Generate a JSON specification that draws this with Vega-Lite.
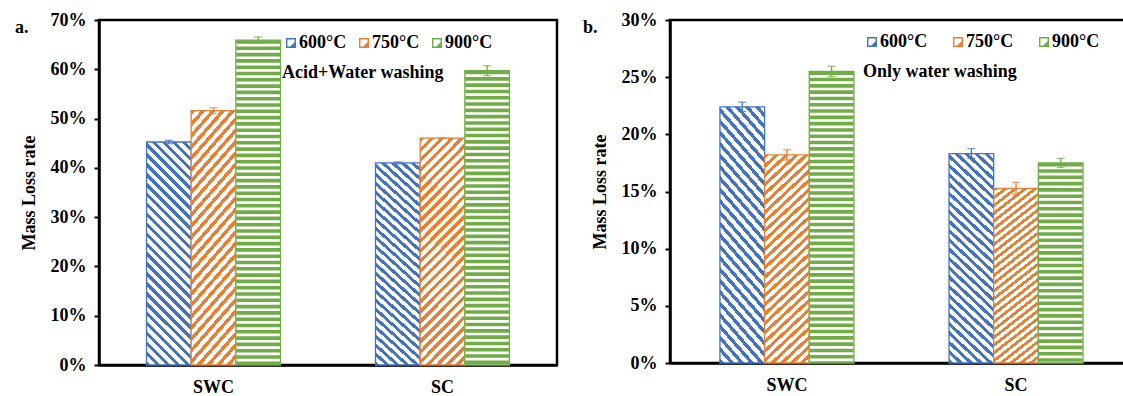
{
"$schema":"https://vega.github.io/schema/vega-lite/v6.json",
"autosize":{"type":"pad"},
"padding":{"left":13,"top":9,"right":0,"bottom":0},
"background":"white",
"bounds":"flush",
"spacing":113,
"resolve":{"scale":{"stroke":"independent","color":"independent"},"legend":{"stroke":"independent","color":"independent"}},
"config":{
"view":{"stroke":"black","strokeWidth":2.5},
"font":"Liberation Serif",
"axis":{"labelFont":"Liberation Serif","labelFontSize":18,"labelFontWeight":"bold","labelColor":"black","titleFont":"Liberation Serif","titleFontSize":18,"titleFontWeight":"bold","titleColor":"black","domainColor":"black","domainWidth":2.5,"tickColor":"black","tickWidth":2,"grid":false},
"axisX":{"ticks":false,"labelPadding":13,"labelAngle":0},
"axisY":{"tickSize":5,"labelPadding":8,"titlePadding":12},
"legend":{"orient":"none","direction":"horizontal","titleOrient":"bottom","titleAnchor":"start","symbolType":"M-1,-1H1V1H-1Z M-0.72,-0.72V0.72H0.72V-0.72Z M0.72,-0.15L0.72,0.72L-0.15,0.72Z","symbolSize":100,"symbolStrokeWidth":0,"labelOffset":-1,"labelFont":"Liberation Serif","labelFontSize":18,"labelFontWeight":"bold","labelColor":"black","titleFont":"Liberation Serif","titleFontSize":18,"titleFontWeight":"bold","titleColor":"black","titlePadding":12,"titleLimit":400}
},
"hconcat":[
{
"width":458,"height":345,
"title":{"text":"a.","anchor":"start","frame":"group","dx":-84,"dy":7,"baseline":"middle","offset":-28,"fontSize":18,"fontWeight":"bold","font":"Liberation Serif","color":"black"},
"data":{"values":[
{"g":"SWC","t":"600°C","v":0.4525,"lo":0.449,"hi":0.456},
{"g":"SWC","t":"750°C","v":0.516,"lo":0.510,"hi":0.522},
{"g":"SWC","t":"900°C","v":0.659,"lo":0.6525,"hi":0.6655},
{"g":"SC","t":"600°C","v":0.410,"lo":0.408,"hi":0.412},
{"g":"SC","t":"750°C","v":0.4605,"lo":0.4595,"hi":0.4615},
{"g":"SC","t":"900°C","v":0.597,"lo":0.587,"hi":0.607}
]},
"encoding":{
"x":{"field":"g","type":"nominal","sort":["SWC","SC"],"title":null,"scale":{"paddingInner":0.415,"paddingOuter":0.2075}},
"xOffset":{"field":"t","type":"nominal","scale":{"domain":["600°C","750°C","900°C"],"paddingInner":0,"paddingOuter":0}}
},
"layer":[
{"mark":{"type":"bar","strokeWidth":1.3},
"encoding":{
"y":{"field":"v","type":"quantitative","title":"Mass Loss rate","scale":{"domain":[0,0.7],"nice":false},"axis":{"values":[0,0.1,0.2,0.3,0.4,0.5,0.6,0.7],"format":".0%"}},
"stroke":{"field":"t","type":"nominal","scale":{"domain":["600°C","750°C","900°C"],"range":["#4472C4","#ED7D31","#70AD47"]},
"legend":{"title":"Acid+Water washing","legendX":183,"legendY":14,"columnPadding":8}},
"fill":{"condition":[
{"test":"datum.t==='600°C'","value":{"gradient":"linear","x1":0,"y1":1,"x2":0.2308,"y2":-0.1538,"stops":[
{"offset":0,"color":"#4472C4"},{"offset":0.0167,"color":"#4472C4"},{"offset":0.0167,"color":"#fff"},{"offset":0.037,"color":"#fff"},
{"offset":0.037,"color":"#4472C4"},{"offset":0.0537,"color":"#4472C4"},{"offset":0.0537,"color":"#fff"},{"offset":0.0741,"color":"#fff"},
{"offset":0.0741,"color":"#4472C4"},{"offset":0.0907,"color":"#4472C4"},{"offset":0.0907,"color":"#fff"},{"offset":0.1111,"color":"#fff"},
{"offset":0.1111,"color":"#4472C4"},{"offset":0.1278,"color":"#4472C4"},{"offset":0.1278,"color":"#fff"},{"offset":0.1481,"color":"#fff"},
{"offset":0.1481,"color":"#4472C4"},{"offset":0.1648,"color":"#4472C4"},{"offset":0.1648,"color":"#fff"},{"offset":0.1852,"color":"#fff"},
{"offset":0.1852,"color":"#4472C4"},{"offset":0.2019,"color":"#4472C4"},{"offset":0.2019,"color":"#fff"},{"offset":0.2222,"color":"#fff"},
{"offset":0.2222,"color":"#4472C4"},{"offset":0.2389,"color":"#4472C4"},{"offset":0.2389,"color":"#fff"},{"offset":0.2593,"color":"#fff"},
{"offset":0.2593,"color":"#4472C4"},{"offset":0.2759,"color":"#4472C4"},{"offset":0.2759,"color":"#fff"},{"offset":0.2963,"color":"#fff"},
{"offset":0.2963,"color":"#4472C4"},{"offset":0.313,"color":"#4472C4"},{"offset":0.313,"color":"#fff"},{"offset":0.3333,"color":"#fff"},
{"offset":0.3333,"color":"#4472C4"},{"offset":0.35,"color":"#4472C4"},{"offset":0.35,"color":"#fff"},{"offset":0.3704,"color":"#fff"},
{"offset":0.3704,"color":"#4472C4"},{"offset":0.387,"color":"#4472C4"},{"offset":0.387,"color":"#fff"},{"offset":0.4074,"color":"#fff"},
{"offset":0.4074,"color":"#4472C4"},{"offset":0.4241,"color":"#4472C4"},{"offset":0.4241,"color":"#fff"},{"offset":0.4444,"color":"#fff"},
{"offset":0.4444,"color":"#4472C4"},{"offset":0.4611,"color":"#4472C4"},{"offset":0.4611,"color":"#fff"},{"offset":0.4815,"color":"#fff"},
{"offset":0.4815,"color":"#4472C4"},{"offset":0.4981,"color":"#4472C4"},{"offset":0.4981,"color":"#fff"},{"offset":0.5185,"color":"#fff"},
{"offset":0.5185,"color":"#4472C4"},{"offset":0.5352,"color":"#4472C4"},{"offset":0.5352,"color":"#fff"},{"offset":0.5556,"color":"#fff"},
{"offset":0.5556,"color":"#4472C4"},{"offset":0.5722,"color":"#4472C4"},{"offset":0.5722,"color":"#fff"},{"offset":0.5926,"color":"#fff"},
{"offset":0.5926,"color":"#4472C4"},{"offset":0.6093,"color":"#4472C4"},{"offset":0.6093,"color":"#fff"},{"offset":0.6296,"color":"#fff"},
{"offset":0.6296,"color":"#4472C4"},{"offset":0.6463,"color":"#4472C4"},{"offset":0.6463,"color":"#fff"},{"offset":0.6667,"color":"#fff"},
{"offset":0.6667,"color":"#4472C4"},{"offset":0.6833,"color":"#4472C4"},{"offset":0.6833,"color":"#fff"},{"offset":0.7037,"color":"#fff"},
{"offset":0.7037,"color":"#4472C4"},{"offset":0.7204,"color":"#4472C4"},{"offset":0.7204,"color":"#fff"},{"offset":0.7407,"color":"#fff"},
{"offset":0.7407,"color":"#4472C4"},{"offset":0.7574,"color":"#4472C4"},{"offset":0.7574,"color":"#fff"},{"offset":0.7778,"color":"#fff"},
{"offset":0.7778,"color":"#4472C4"},{"offset":0.7944,"color":"#4472C4"},{"offset":0.7944,"color":"#fff"},{"offset":0.8148,"color":"#fff"},
{"offset":0.8148,"color":"#4472C4"},{"offset":0.8315,"color":"#4472C4"},{"offset":0.8315,"color":"#fff"},{"offset":0.8519,"color":"#fff"},
{"offset":0.8519,"color":"#4472C4"},{"offset":0.8685,"color":"#4472C4"},{"offset":0.8685,"color":"#fff"},{"offset":0.8889,"color":"#fff"},
{"offset":0.8889,"color":"#4472C4"},{"offset":0.9056,"color":"#4472C4"},{"offset":0.9056,"color":"#fff"},{"offset":0.9259,"color":"#fff"},
{"offset":0.9259,"color":"#4472C4"},{"offset":0.9426,"color":"#4472C4"},{"offset":0.9426,"color":"#fff"},{"offset":0.963,"color":"#fff"},
{"offset":0.963,"color":"#4472C4"},{"offset":0.9796,"color":"#4472C4"},{"offset":0.9796,"color":"#fff"},{"offset":1,"color":"#fff"}
]}},
{"test":"datum.t==='750°C'","value":{"gradient":"linear","x1":0,"y1":0,"x2":0.2308,"y2":1.1538,"stops":[
{"offset":0,"color":"#ED7D31"},{"offset":0.0167,"color":"#ED7D31"},{"offset":0.0167,"color":"#fff"},{"offset":0.037,"color":"#fff"},
{"offset":0.037,"color":"#ED7D31"},{"offset":0.0537,"color":"#ED7D31"},{"offset":0.0537,"color":"#fff"},{"offset":0.0741,"color":"#fff"},
{"offset":0.0741,"color":"#ED7D31"},{"offset":0.0907,"color":"#ED7D31"},{"offset":0.0907,"color":"#fff"},{"offset":0.1111,"color":"#fff"},
{"offset":0.1111,"color":"#ED7D31"},{"offset":0.1278,"color":"#ED7D31"},{"offset":0.1278,"color":"#fff"},{"offset":0.1481,"color":"#fff"},
{"offset":0.1481,"color":"#ED7D31"},{"offset":0.1648,"color":"#ED7D31"},{"offset":0.1648,"color":"#fff"},{"offset":0.1852,"color":"#fff"},
{"offset":0.1852,"color":"#ED7D31"},{"offset":0.2019,"color":"#ED7D31"},{"offset":0.2019,"color":"#fff"},{"offset":0.2222,"color":"#fff"},
{"offset":0.2222,"color":"#ED7D31"},{"offset":0.2389,"color":"#ED7D31"},{"offset":0.2389,"color":"#fff"},{"offset":0.2593,"color":"#fff"},
{"offset":0.2593,"color":"#ED7D31"},{"offset":0.2759,"color":"#ED7D31"},{"offset":0.2759,"color":"#fff"},{"offset":0.2963,"color":"#fff"},
{"offset":0.2963,"color":"#ED7D31"},{"offset":0.313,"color":"#ED7D31"},{"offset":0.313,"color":"#fff"},{"offset":0.3333,"color":"#fff"},
{"offset":0.3333,"color":"#ED7D31"},{"offset":0.35,"color":"#ED7D31"},{"offset":0.35,"color":"#fff"},{"offset":0.3704,"color":"#fff"},
{"offset":0.3704,"color":"#ED7D31"},{"offset":0.387,"color":"#ED7D31"},{"offset":0.387,"color":"#fff"},{"offset":0.4074,"color":"#fff"},
{"offset":0.4074,"color":"#ED7D31"},{"offset":0.4241,"color":"#ED7D31"},{"offset":0.4241,"color":"#fff"},{"offset":0.4444,"color":"#fff"},
{"offset":0.4444,"color":"#ED7D31"},{"offset":0.4611,"color":"#ED7D31"},{"offset":0.4611,"color":"#fff"},{"offset":0.4815,"color":"#fff"},
{"offset":0.4815,"color":"#ED7D31"},{"offset":0.4981,"color":"#ED7D31"},{"offset":0.4981,"color":"#fff"},{"offset":0.5185,"color":"#fff"},
{"offset":0.5185,"color":"#ED7D31"},{"offset":0.5352,"color":"#ED7D31"},{"offset":0.5352,"color":"#fff"},{"offset":0.5556,"color":"#fff"},
{"offset":0.5556,"color":"#ED7D31"},{"offset":0.5722,"color":"#ED7D31"},{"offset":0.5722,"color":"#fff"},{"offset":0.5926,"color":"#fff"},
{"offset":0.5926,"color":"#ED7D31"},{"offset":0.6093,"color":"#ED7D31"},{"offset":0.6093,"color":"#fff"},{"offset":0.6296,"color":"#fff"},
{"offset":0.6296,"color":"#ED7D31"},{"offset":0.6463,"color":"#ED7D31"},{"offset":0.6463,"color":"#fff"},{"offset":0.6667,"color":"#fff"},
{"offset":0.6667,"color":"#ED7D31"},{"offset":0.6833,"color":"#ED7D31"},{"offset":0.6833,"color":"#fff"},{"offset":0.7037,"color":"#fff"},
{"offset":0.7037,"color":"#ED7D31"},{"offset":0.7204,"color":"#ED7D31"},{"offset":0.7204,"color":"#fff"},{"offset":0.7407,"color":"#fff"},
{"offset":0.7407,"color":"#ED7D31"},{"offset":0.7574,"color":"#ED7D31"},{"offset":0.7574,"color":"#fff"},{"offset":0.7778,"color":"#fff"},
{"offset":0.7778,"color":"#ED7D31"},{"offset":0.7944,"color":"#ED7D31"},{"offset":0.7944,"color":"#fff"},{"offset":0.8148,"color":"#fff"},
{"offset":0.8148,"color":"#ED7D31"},{"offset":0.8315,"color":"#ED7D31"},{"offset":0.8315,"color":"#fff"},{"offset":0.8519,"color":"#fff"},
{"offset":0.8519,"color":"#ED7D31"},{"offset":0.8685,"color":"#ED7D31"},{"offset":0.8685,"color":"#fff"},{"offset":0.8889,"color":"#fff"},
{"offset":0.8889,"color":"#ED7D31"},{"offset":0.9056,"color":"#ED7D31"},{"offset":0.9056,"color":"#fff"},{"offset":0.9259,"color":"#fff"},
{"offset":0.9259,"color":"#ED7D31"},{"offset":0.9426,"color":"#ED7D31"},{"offset":0.9426,"color":"#fff"},{"offset":0.963,"color":"#fff"},
{"offset":0.963,"color":"#ED7D31"},{"offset":0.9796,"color":"#ED7D31"},{"offset":0.9796,"color":"#fff"},{"offset":1,"color":"#fff"}
]}}
],"value":"#ffffff"}
}},
{"transform":[{"filter":"datum.t==='900°C'"}],
"mark":{"type":"rule","color":"#70AD47","strokeWidth":44,"strokeDash":[3.6,2.7],"strokeCap":"butt"},
"encoding":{"y":{"field":"v","type":"quantitative","title":"Mass Loss rate"},"y2":{"datum":0}}},
{"mark":{"type":"rule","strokeWidth":1.3},
"encoding":{"y":{"field":"lo","type":"quantitative","title":"Mass Loss rate"},"y2":{"field":"hi"},
"color":{"field":"t","type":"nominal","scale":{"domain":["600°C","750°C","900°C"],"range":["#4472C4","#ED7D31","#70AD47"]},"legend":null}}},
{"mark":{"type":"tick","orient":"horizontal","thickness":1.3,"size":8},
"encoding":{"y":{"field":"hi","type":"quantitative","title":"Mass Loss rate"},
"color":{"field":"t","type":"nominal","scale":{"domain":["600°C","750°C","900°C"],"range":["#4472C4","#ED7D31","#70AD47"]},"legend":null}}},
{"mark":{"type":"tick","orient":"horizontal","thickness":1.3,"size":8},
"encoding":{"y":{"field":"lo","type":"quantitative","title":"Mass Loss rate"},
"color":{"field":"t","type":"nominal","scale":{"domain":["600°C","750°C","900°C"],"range":["#4472C4","#ED7D31","#70AD47"]},"legend":null}}}
]
},
{
"width":463,"height":343,
"title":{"text":"b.","anchor":"start","frame":"group","dx":-87,"dy":7,"baseline":"middle","offset":-28,"fontSize":18,"fontWeight":"bold","font":"Liberation Serif","color":"black"},
"data":{"values":[
{"g":"SWC","t":"600°C","v":0.2241,"lo":0.2201,"hi":0.2281},
{"g":"SWC","t":"750°C","v":0.182,"lo":0.1775,"hi":0.1865},
{"g":"SWC","t":"900°C","v":0.255,"lo":0.2505,"hi":0.2595},
{"g":"SC","t":"600°C","v":0.1832,"lo":0.179,"hi":0.1875},
{"g":"SC","t":"750°C","v":0.1527,"lo":0.1475,"hi":0.158},
{"g":"SC","t":"900°C","v":0.175,"lo":0.171,"hi":0.179}
]},
"encoding":{
"x":{"field":"g","type":"nominal","sort":["SWC","SC"],"title":null,"scale":{"paddingInner":0.415,"paddingOuter":0.218}},
"xOffset":{"field":"t","type":"nominal","scale":{"domain":["600°C","750°C","900°C"],"paddingInner":0,"paddingOuter":0}}
},
"layer":[
{"mark":{"type":"bar","strokeWidth":1.3},
"encoding":{
"y":{"field":"v","type":"quantitative","title":"Mass Loss rate","scale":{"domain":[0,0.3],"nice":false},"axis":{"values":[0,0.05,0.1,0.15,0.2,0.25,0.3],"format":".0%"}},
"stroke":{"field":"t","type":"nominal","scale":{"domain":["600°C","750°C","900°C"],"range":["#4472C4","#ED7D31","#70AD47"]},
"legend":{"title":"Only water washing","legendX":193,"legendY":13,"columnPadding":21}},
"fill":{"condition":[
{"test":"datum.t==='600°C'","value":{"gradient":"linear","x1":0,"y1":1,"x2":0.2308,"y2":-0.1538,"stops":[
{"offset":0,"color":"#4472C4"},{"offset":0.0167,"color":"#4472C4"},{"offset":0.0167,"color":"#fff"},{"offset":0.037,"color":"#fff"},
{"offset":0.037,"color":"#4472C4"},{"offset":0.0537,"color":"#4472C4"},{"offset":0.0537,"color":"#fff"},{"offset":0.0741,"color":"#fff"},
{"offset":0.0741,"color":"#4472C4"},{"offset":0.0907,"color":"#4472C4"},{"offset":0.0907,"color":"#fff"},{"offset":0.1111,"color":"#fff"},
{"offset":0.1111,"color":"#4472C4"},{"offset":0.1278,"color":"#4472C4"},{"offset":0.1278,"color":"#fff"},{"offset":0.1481,"color":"#fff"},
{"offset":0.1481,"color":"#4472C4"},{"offset":0.1648,"color":"#4472C4"},{"offset":0.1648,"color":"#fff"},{"offset":0.1852,"color":"#fff"},
{"offset":0.1852,"color":"#4472C4"},{"offset":0.2019,"color":"#4472C4"},{"offset":0.2019,"color":"#fff"},{"offset":0.2222,"color":"#fff"},
{"offset":0.2222,"color":"#4472C4"},{"offset":0.2389,"color":"#4472C4"},{"offset":0.2389,"color":"#fff"},{"offset":0.2593,"color":"#fff"},
{"offset":0.2593,"color":"#4472C4"},{"offset":0.2759,"color":"#4472C4"},{"offset":0.2759,"color":"#fff"},{"offset":0.2963,"color":"#fff"},
{"offset":0.2963,"color":"#4472C4"},{"offset":0.313,"color":"#4472C4"},{"offset":0.313,"color":"#fff"},{"offset":0.3333,"color":"#fff"},
{"offset":0.3333,"color":"#4472C4"},{"offset":0.35,"color":"#4472C4"},{"offset":0.35,"color":"#fff"},{"offset":0.3704,"color":"#fff"},
{"offset":0.3704,"color":"#4472C4"},{"offset":0.387,"color":"#4472C4"},{"offset":0.387,"color":"#fff"},{"offset":0.4074,"color":"#fff"},
{"offset":0.4074,"color":"#4472C4"},{"offset":0.4241,"color":"#4472C4"},{"offset":0.4241,"color":"#fff"},{"offset":0.4444,"color":"#fff"},
{"offset":0.4444,"color":"#4472C4"},{"offset":0.4611,"color":"#4472C4"},{"offset":0.4611,"color":"#fff"},{"offset":0.4815,"color":"#fff"},
{"offset":0.4815,"color":"#4472C4"},{"offset":0.4981,"color":"#4472C4"},{"offset":0.4981,"color":"#fff"},{"offset":0.5185,"color":"#fff"},
{"offset":0.5185,"color":"#4472C4"},{"offset":0.5352,"color":"#4472C4"},{"offset":0.5352,"color":"#fff"},{"offset":0.5556,"color":"#fff"},
{"offset":0.5556,"color":"#4472C4"},{"offset":0.5722,"color":"#4472C4"},{"offset":0.5722,"color":"#fff"},{"offset":0.5926,"color":"#fff"},
{"offset":0.5926,"color":"#4472C4"},{"offset":0.6093,"color":"#4472C4"},{"offset":0.6093,"color":"#fff"},{"offset":0.6296,"color":"#fff"},
{"offset":0.6296,"color":"#4472C4"},{"offset":0.6463,"color":"#4472C4"},{"offset":0.6463,"color":"#fff"},{"offset":0.6667,"color":"#fff"},
{"offset":0.6667,"color":"#4472C4"},{"offset":0.6833,"color":"#4472C4"},{"offset":0.6833,"color":"#fff"},{"offset":0.7037,"color":"#fff"},
{"offset":0.7037,"color":"#4472C4"},{"offset":0.7204,"color":"#4472C4"},{"offset":0.7204,"color":"#fff"},{"offset":0.7407,"color":"#fff"},
{"offset":0.7407,"color":"#4472C4"},{"offset":0.7574,"color":"#4472C4"},{"offset":0.7574,"color":"#fff"},{"offset":0.7778,"color":"#fff"},
{"offset":0.7778,"color":"#4472C4"},{"offset":0.7944,"color":"#4472C4"},{"offset":0.7944,"color":"#fff"},{"offset":0.8148,"color":"#fff"},
{"offset":0.8148,"color":"#4472C4"},{"offset":0.8315,"color":"#4472C4"},{"offset":0.8315,"color":"#fff"},{"offset":0.8519,"color":"#fff"},
{"offset":0.8519,"color":"#4472C4"},{"offset":0.8685,"color":"#4472C4"},{"offset":0.8685,"color":"#fff"},{"offset":0.8889,"color":"#fff"},
{"offset":0.8889,"color":"#4472C4"},{"offset":0.9056,"color":"#4472C4"},{"offset":0.9056,"color":"#fff"},{"offset":0.9259,"color":"#fff"},
{"offset":0.9259,"color":"#4472C4"},{"offset":0.9426,"color":"#4472C4"},{"offset":0.9426,"color":"#fff"},{"offset":0.963,"color":"#fff"},
{"offset":0.963,"color":"#4472C4"},{"offset":0.9796,"color":"#4472C4"},{"offset":0.9796,"color":"#fff"},{"offset":1,"color":"#fff"}
]}},
{"test":"datum.t==='750°C'","value":{"gradient":"linear","x1":0,"y1":0,"x2":0.2308,"y2":1.1538,"stops":[
{"offset":0,"color":"#ED7D31"},{"offset":0.0167,"color":"#ED7D31"},{"offset":0.0167,"color":"#fff"},{"offset":0.037,"color":"#fff"},
{"offset":0.037,"color":"#ED7D31"},{"offset":0.0537,"color":"#ED7D31"},{"offset":0.0537,"color":"#fff"},{"offset":0.0741,"color":"#fff"},
{"offset":0.0741,"color":"#ED7D31"},{"offset":0.0907,"color":"#ED7D31"},{"offset":0.0907,"color":"#fff"},{"offset":0.1111,"color":"#fff"},
{"offset":0.1111,"color":"#ED7D31"},{"offset":0.1278,"color":"#ED7D31"},{"offset":0.1278,"color":"#fff"},{"offset":0.1481,"color":"#fff"},
{"offset":0.1481,"color":"#ED7D31"},{"offset":0.1648,"color":"#ED7D31"},{"offset":0.1648,"color":"#fff"},{"offset":0.1852,"color":"#fff"},
{"offset":0.1852,"color":"#ED7D31"},{"offset":0.2019,"color":"#ED7D31"},{"offset":0.2019,"color":"#fff"},{"offset":0.2222,"color":"#fff"},
{"offset":0.2222,"color":"#ED7D31"},{"offset":0.2389,"color":"#ED7D31"},{"offset":0.2389,"color":"#fff"},{"offset":0.2593,"color":"#fff"},
{"offset":0.2593,"color":"#ED7D31"},{"offset":0.2759,"color":"#ED7D31"},{"offset":0.2759,"color":"#fff"},{"offset":0.2963,"color":"#fff"},
{"offset":0.2963,"color":"#ED7D31"},{"offset":0.313,"color":"#ED7D31"},{"offset":0.313,"color":"#fff"},{"offset":0.3333,"color":"#fff"},
{"offset":0.3333,"color":"#ED7D31"},{"offset":0.35,"color":"#ED7D31"},{"offset":0.35,"color":"#fff"},{"offset":0.3704,"color":"#fff"},
{"offset":0.3704,"color":"#ED7D31"},{"offset":0.387,"color":"#ED7D31"},{"offset":0.387,"color":"#fff"},{"offset":0.4074,"color":"#fff"},
{"offset":0.4074,"color":"#ED7D31"},{"offset":0.4241,"color":"#ED7D31"},{"offset":0.4241,"color":"#fff"},{"offset":0.4444,"color":"#fff"},
{"offset":0.4444,"color":"#ED7D31"},{"offset":0.4611,"color":"#ED7D31"},{"offset":0.4611,"color":"#fff"},{"offset":0.4815,"color":"#fff"},
{"offset":0.4815,"color":"#ED7D31"},{"offset":0.4981,"color":"#ED7D31"},{"offset":0.4981,"color":"#fff"},{"offset":0.5185,"color":"#fff"},
{"offset":0.5185,"color":"#ED7D31"},{"offset":0.5352,"color":"#ED7D31"},{"offset":0.5352,"color":"#fff"},{"offset":0.5556,"color":"#fff"},
{"offset":0.5556,"color":"#ED7D31"},{"offset":0.5722,"color":"#ED7D31"},{"offset":0.5722,"color":"#fff"},{"offset":0.5926,"color":"#fff"},
{"offset":0.5926,"color":"#ED7D31"},{"offset":0.6093,"color":"#ED7D31"},{"offset":0.6093,"color":"#fff"},{"offset":0.6296,"color":"#fff"},
{"offset":0.6296,"color":"#ED7D31"},{"offset":0.6463,"color":"#ED7D31"},{"offset":0.6463,"color":"#fff"},{"offset":0.6667,"color":"#fff"},
{"offset":0.6667,"color":"#ED7D31"},{"offset":0.6833,"color":"#ED7D31"},{"offset":0.6833,"color":"#fff"},{"offset":0.7037,"color":"#fff"},
{"offset":0.7037,"color":"#ED7D31"},{"offset":0.7204,"color":"#ED7D31"},{"offset":0.7204,"color":"#fff"},{"offset":0.7407,"color":"#fff"},
{"offset":0.7407,"color":"#ED7D31"},{"offset":0.7574,"color":"#ED7D31"},{"offset":0.7574,"color":"#fff"},{"offset":0.7778,"color":"#fff"},
{"offset":0.7778,"color":"#ED7D31"},{"offset":0.7944,"color":"#ED7D31"},{"offset":0.7944,"color":"#fff"},{"offset":0.8148,"color":"#fff"},
{"offset":0.8148,"color":"#ED7D31"},{"offset":0.8315,"color":"#ED7D31"},{"offset":0.8315,"color":"#fff"},{"offset":0.8519,"color":"#fff"},
{"offset":0.8519,"color":"#ED7D31"},{"offset":0.8685,"color":"#ED7D31"},{"offset":0.8685,"color":"#fff"},{"offset":0.8889,"color":"#fff"},
{"offset":0.8889,"color":"#ED7D31"},{"offset":0.9056,"color":"#ED7D31"},{"offset":0.9056,"color":"#fff"},{"offset":0.9259,"color":"#fff"},
{"offset":0.9259,"color":"#ED7D31"},{"offset":0.9426,"color":"#ED7D31"},{"offset":0.9426,"color":"#fff"},{"offset":0.963,"color":"#fff"},
{"offset":0.963,"color":"#ED7D31"},{"offset":0.9796,"color":"#ED7D31"},{"offset":0.9796,"color":"#fff"},{"offset":1,"color":"#fff"}
]}}
],"value":"#ffffff"}
}},
{"transform":[{"filter":"datum.t==='900°C'"}],
"mark":{"type":"rule","color":"#70AD47","strokeWidth":44,"strokeDash":[3.6,2.7],"strokeCap":"butt"},
"encoding":{"y":{"field":"v","type":"quantitative","title":"Mass Loss rate"},"y2":{"datum":0}}},
{"mark":{"type":"rule","strokeWidth":1.3},
"encoding":{"y":{"field":"lo","type":"quantitative","title":"Mass Loss rate"},"y2":{"field":"hi"},
"color":{"field":"t","type":"nominal","scale":{"domain":["600°C","750°C","900°C"],"range":["#4472C4","#ED7D31","#70AD47"]},"legend":null}}},
{"mark":{"type":"tick","orient":"horizontal","thickness":1.3,"size":8},
"encoding":{"y":{"field":"hi","type":"quantitative","title":"Mass Loss rate"},
"color":{"field":"t","type":"nominal","scale":{"domain":["600°C","750°C","900°C"],"range":["#4472C4","#ED7D31","#70AD47"]},"legend":null}}},
{"mark":{"type":"tick","orient":"horizontal","thickness":1.3,"size":8},
"encoding":{"y":{"field":"lo","type":"quantitative","title":"Mass Loss rate"},
"color":{"field":"t","type":"nominal","scale":{"domain":["600°C","750°C","900°C"],"range":["#4472C4","#ED7D31","#70AD47"]},"legend":null}}}
]
}
]
}
